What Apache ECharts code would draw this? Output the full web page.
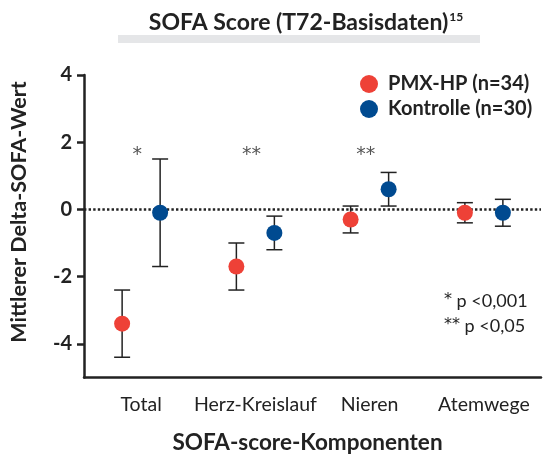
<!DOCTYPE html>
<html>
<head>
<meta charset="utf-8">
<script src="https://cdn.jsdelivr.net/npm/echarts@6/dist/echarts.min.js"></script>
<style>html,body{margin:0;padding:0;background:#fff}#c{width:547px;height:457px}</style>
</head>
<body>
<div id="c"></div>
<script>
var categories = ['Total', 'Herz-Kreislauf', 'Nieren', 'Atemwege'];
var seriesNames = ['PMX-HP (n=34)', 'Kontrolle (n=30)'];
var pmxMean = [-3.4, -1.7, -0.3, -0.1];
var pmxLow  = [-4.4, -2.4, -0.7, -0.4];
var pmxHigh = [-2.4, -1.0, 0.1, 0.2];
var ctlMean = [-0.1, -0.7, 0.6, -0.1];
var ctlLow  = [-1.7, -1.2, 0.1, -0.5];
var ctlHigh = [1.5, -0.2, 1.1, 0.3];
var sigMarks = ['*', '**', '**', ''];
var sigLevel = 1.7;
var yTicks = [-4, -2, 0, 2, 4];
var yMin = -5, yMax = 4;

var FONT = 'Lato';
var STAR = 'DejaVu Sans';
var RED = '#ee4137';
var BLUE = '#004a90';
var INK = '#222222';
var OFF = 19;

function errData(low, high) {
  return categories.map(function (c, i) { return [i, low[i], high[i]]; });
}
function errRender(offset) {
  return function (params, api) {
    var lo = api.coord([api.value(0), api.value(1)]);
    var hi = api.coord([api.value(0), api.value(2)]);
    var x = lo[0] + offset, hw = 8;
    var st = { stroke: INK, lineWidth: 1.5, fill: null };
    return {
      type: 'group',
      children: [
        { type: 'line', shape: { x1: x, y1: lo[1], x2: x, y2: hi[1] }, style: st },
        { type: 'line', shape: { x1: x - hw, y1: lo[1], x2: x + hw, y2: lo[1] }, style: st },
        { type: 'line', shape: { x1: x - hw, y1: hi[1], x2: x + hw, y2: hi[1] }, style: st }
      ]
    };
  };
}

var chart = echarts.init(document.getElementById('c'), null, { renderer: 'canvas' });
chart.setOption({
  animation: false,
  textStyle: { fontFamily: FONT },
  title: {
    text: '{t|SOFA Score (T72-Basisdaten)}{s|15}',
    left: 301, top: 6, textAlign: 'center',
    textStyle: {
      rich: {
        t: { fontFamily: FONT, fontWeight: 'bold', fontSize: 23, color: INK },
        s: { fontFamily: FONT, fontWeight: 'bold', fontSize: 12, color: INK, verticalAlign: 'top', padding: [0, 0, 12, 1] }
      }
    }
  },
  graphic: [
    { type: 'rect', shape: { x: 118, y: 35, width: 362, height: 8 }, style: { fill: '#e5e6e8' }, silent: true },
    { type: 'text', x: 19, y: 212, rotation: Math.PI / 2,
      style: { text: 'Mittlerer Delta-SOFA-Wert', fontFamily: FONT, fontWeight: 'bold', fontSize: 21.5, fill: INK, align: 'center', verticalAlign: 'middle' } },
    { type: 'text', left: 444, top: 289,
      style: {
        text: '{a|*} p <0,001\n{a|**} p <0,05',
        fontFamily: FONT, fontSize: 18, lineHeight: 25, fill: INK,
        rich: { a: { fontFamily: STAR, fontSize: 16, fill: INK, lineHeight: 25, padding: [0, 0, 4, 0] } }
      } }
  ],
  legend: {
    orient: 'vertical', left: 355, top: 69,
    itemWidth: 18, itemHeight: 18, itemGap: 5,
    icon: 'circle',
    data: seriesNames,
    textStyle: { fontFamily: FONT, fontWeight: 'bold', fontSize: 20, color: INK, padding: [0, 0, 0, 5] }
  },
  grid: { left: 84, right: 6, top: 75, bottom: 79.6, outerBoundsMode: 'none', containLabel: false },
  xAxis: {
    type: 'category', data: categories, boundaryGap: true,
    name: 'SOFA-score-Komponenten', nameLocation: 'middle', nameGap: 54,
    nameTextStyle: { fontFamily: FONT, fontWeight: 'bold', fontSize: 22.5, color: INK, padding: [0, 10, 0, 0] },
    axisLine: { onZero: false, lineStyle: { color: INK, width: 2.5 } },
    axisTick: { alignWithLabel: true, length: 8, lineStyle: { color: INK, width: 2.5 } },
    axisLabel: { interval: 0, fontFamily: FONT, fontSize: 19.5, color: INK, margin: 17 },
    splitLine: { show: false }
  },
  yAxis: {
    type: 'value', min: yMin, max: yMax,
    axisLine: { show: true, onZero: false, lineStyle: { color: INK, width: 2.5 } },
    axisTick: { show: true, length: 7, customValues: yTicks, lineStyle: { color: INK, width: 2.5 } },
    axisLabel: { customValues: yTicks, fontFamily: FONT, fontWeight: 'bold', fontSize: 20, color: INK, margin: 12 },
    splitLine: { show: false }
  },
  series: [
    {
      type: 'custom', name: 'pmxErr', renderItem: errRender(-OFF), data: errData(pmxLow, pmxHigh),
      encode: { x: 0, y: [1, 2] }, z: 3, silent: true,
      markLine: {
        silent: true, symbol: 'none', label: { show: false },
        lineStyle: { color: INK, width: 2.6, type: [2.4, 2.2] },
        data: [{ yAxis: 0 }]
      }
    },
    {
      type: 'custom', name: 'ctlErr', renderItem: errRender(OFF), data: errData(ctlLow, ctlHigh),
      encode: { x: 0, y: [1, 2] }, z: 3, silent: true
    },
    {
      type: 'scatter', name: seriesNames[0], data: pmxMean, symbol: 'circle', symbolSize: 16,
      symbolOffset: [-OFF, 0], itemStyle: { color: RED, opacity: 1 }, z: 5
    },
    {
      type: 'scatter', name: seriesNames[1], data: ctlMean, symbol: 'circle', symbolSize: 16,
      symbolOffset: [OFF, 0], itemStyle: { color: BLUE, opacity: 1 }, z: 5
    },
    {
      type: 'custom', name: 'sig', silent: true,
      data: categories.map(function (c, i) { return [i, sigLevel]; }),
      renderItem: function (params, api) {
        var p = api.coord([api.value(0), api.value(1)]);
        return { type: 'text', x: p[0] - 4, y: p[1] + 3,
          style: { text: sigMarks[params.dataIndex], fontFamily: STAR, fontSize: 19, fill: '#555', align: 'center', verticalAlign: 'middle' } };
      }
    }
  ]
});
</script>
</body>
</html>
